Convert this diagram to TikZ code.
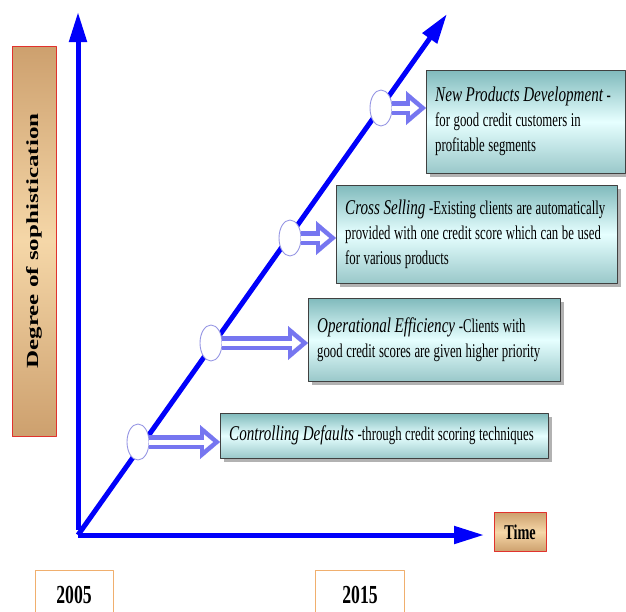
\documentclass[tikz,border=0pt]{standalone}
\usepackage{fontspec}
\setmainfont{Liberation Serif}[UprightFeatures={FakeStretch=0.655}, BoldFeatures={FakeStretch=0.68}, ItalicFeatures={FakeStretch=0.72}]
\newfontfamily\upfont{Liberation Serif}
\usetikzlibrary{arrows.meta,shadows,shapes.geometric}
\definecolor{axisblue}{RGB}{0,0,250}
\definecolor{arrowblue}{RGB}{118,118,240}
\definecolor{ringblue}{RGB}{150,150,228}
\definecolor{boxdark}{RGB}{128,186,188}
\definecolor{boxlight}{RGB}{230,255,255}
\definecolor{tandark}{RGB}{205,160,110}
\definecolor{tanlight}{RGB}{245,215,168}
\definecolor{tanline}{RGB}{225,50,45}
\definecolor{yearline}{RGB}{240,175,110}
\newcommand\tightspace{\spaceskip=3.6pt plus 1pt minus 1pt\relax}
\begin{document}
\begin{tikzpicture}[x=1pt, y=-1pt, line join=round, >={Triangle[length=30pt,width=17pt]},
	axis/.style={draw=axisblue, line width=5pt, ->},
	ring/.style={ellipse, draw=ringblue, fill=white, line width=0.9pt, minimum width=22pt, minimum height=36pt, inner sep=0pt},
	hollow/.style={draw=arrowblue, line width=14pt, -{Triangle[length=20pt,width=34pt,line width=0.1pt]}},
	hollowcore/.style={draw=white, line width=5pt, shorten >=7pt, -{Triangle[length=9pt,width=15pt,line width=0.1pt]}},
	stagebox/.style={draw=black!75, anchor=north west, inner xsep=9pt, align=left,
		top color=boxdark, bottom color=boxdark!80, middle color=boxlight,
		drop shadow={shadow xshift=4pt, shadow yshift=-4pt, fill=gray!60, opacity=1},
		font=\fontsize{19.5}{25}\selectfont},
	tanbox/.style={draw=tanline, thick, top color=tandark, bottom color=tandark, middle color=tanlight, inner sep=0pt},
	yearbox/.style={draw=yearline, fill=white, anchor=north, minimum height=50pt, inner sep=0pt,
		font=\fontsize{26}{26}\selectfont\bfseries}]
	\def\ttl#1{{\fontsize{21}{25}\selectfont\itshape #1}} % tieu de in nghieng
	\def\lines#1{\tightspace\begin{tabular}{@{}l@{}}#1\end{tabular}} % cac dong khong ngat
	\useasboundingbox (0,0) rectangle (626,611);
	\coordinate (O) at (78,535);
	\coordinate (T) at (447,14);
	% truc toa do
	\draw[axis] (O|-0,530) -- (78,12);
	\draw[axis] (O) -- (484,535);
	\draw[axis] (O) -- (T);
	% cac khung noi dung
	\node[stagebox, minimum width=328pt, minimum height=45pt, text width=310pt] (b1) at (220,413)
		{\lines{\ttl{Controlling Defaults} -through credit scoring techniques}};
	\node[stagebox, minimum width=252pt, minimum height=83pt, text width=234pt] (b2) at (308,298)
		{\lines{\ttl{Operational Efficiency} -Clients with\\ good credit scores are given higher priority}};
	\node[stagebox, minimum width=281pt, minimum height=98pt, text width=263pt] (b3) at (336,185)
		{\lines{\ttl{Cross Selling} -Existing clients are automatically\\ provided with one credit score which can be used\\ for various products}};
	\node[stagebox, minimum width=199pt, minimum height=103pt, text width=181pt] (b4) at (426,70)
		{\lines{\ttl{New Products Development} -\\ for good credit customers in\\ profitable segments}};
	% cac moc tren duong cheo
	\node[ring] (c1) at (138,442) {};
	\node[ring] (c2) at (211,343) {};
	\node[ring] (c3) at (290,238) {};
	\node[ring] (c4) at (381,108) {};
	\foreach \i in {1,...,4}{
		\draw[hollow] (c\i.east) -- (c\i.east -| b\i.west);
		\draw[hollowcore] (c\i.east) -- (c\i.east -| b\i.west);
	}
	% nhan truc
	\node[tanbox, rotate=90, minimum width=390pt, minimum height=44pt] (deg) at (34,241)
		{\scalebox{1}[0.68]{\upfont\bfseries\fontsize{25}{25}\selectfont Degree of sophistication}};
	\node[tanbox, minimum width=52pt, minimum height=39pt] (time) at (520,532)
		{\fontsize{21}{21}\selectfont\bfseries Time};
	\node[yearbox, minimum width=78pt] (y1) at (74,570) {2005};
	\node[yearbox, minimum width=89pt] (y2) at (360,570) {2015};
\end{tikzpicture}
\end{document}
